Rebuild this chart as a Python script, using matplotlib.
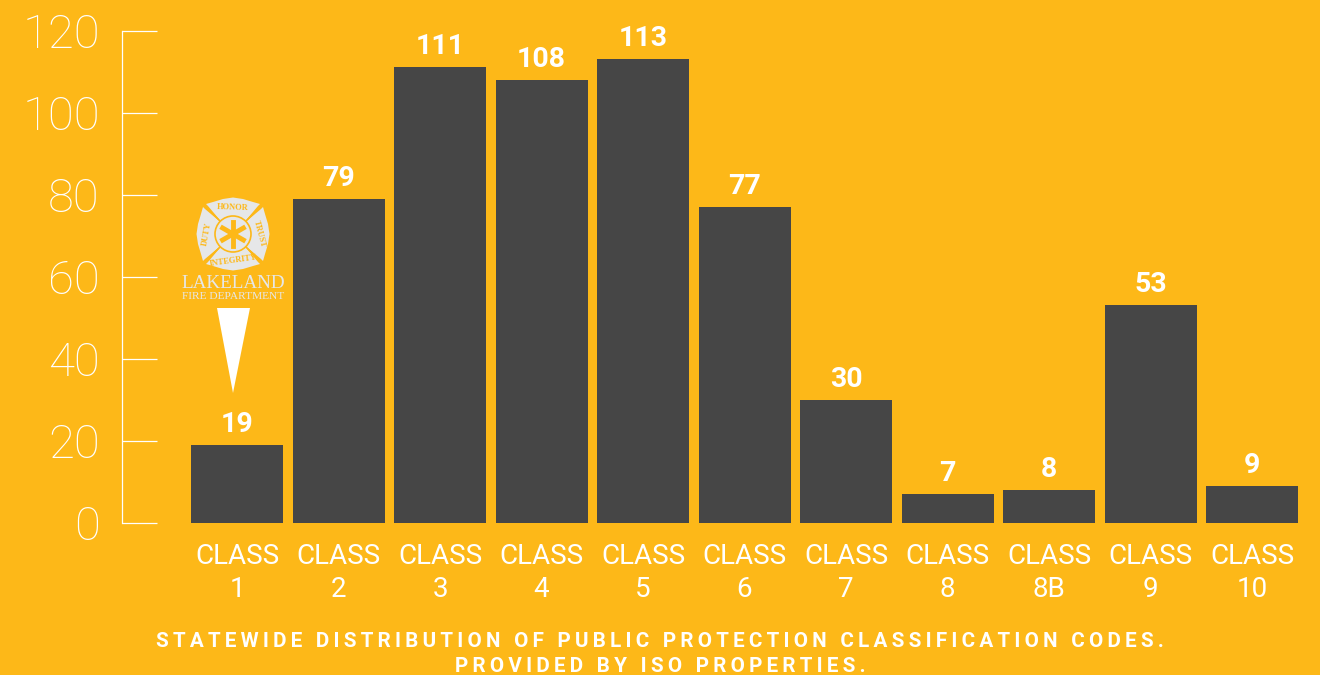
import matplotlib
matplotlib.use('Agg')
import matplotlib.pyplot as plt
import matplotlib.patches as mpatches
import numpy as np

#values
classes = ['1', '2', '3', '4', '5', '6', '7', '8', '8B', '9', '10']
counts = [19, 79, 111, 108, 113, 77, 30, 7, 8, 53, 9]
yticks = [0, 20, 40, 60, 80, 100, 120]
caption = ['STATEWIDE DISTRIBUTION OF PUBLIC PROTECTION CLASSIFICATION CODES.',
           'PROVIDED BY ISO PROPERTIES.']
logo_words = ['HONOR', 'TRUST', 'INTEGRITY', 'DUTY']

orange = '#FDB818'
dark = '#464646'
logo_grey = '#E6E7E8'
W, H = 1320, 675


def fx(x):
    return x / W


def fy(y):
    return 1 - y / H


plt.rcParams['font.family'] = ['Roboto', 'DejaVu Sans']

fig = plt.figure(figsize=(13.2, 6.75), dpi=100, facecolor=orange)
#axes box is set so 0 falls on pixel 522.5 and 120 on 30.5
ax = fig.add_axes([fx(122), fy(522.5), fx(1198), (522.5 - 30.5) / H])
ax.set_facecolor('none')

pos = np.arange(len(classes))
bars = ax.bar(pos, counts, width=92 / 101.5, color=dark)
ax.bar_label(bars, padding=5, color='white', fontsize=20.5, fontweight='bold')

ax.set_xlim((122 - 237) / 101.5, (1320 - 237) / 101.5)
ax.set_ylim(0, 120)
ax.set_yticks(yticks)
ax.set_xticks(pos)
ax.set_xticklabels(['CLASS\n' + c for c in classes], linespacing=1.28)

for s in ['top', 'right', 'bottom']:
    ax.spines[s].set_visible(False)
ax.spines['left'].set_color('white')
ax.spines['left'].set_linewidth(0.9)
ax.tick_params(axis='y', direction='in', length=25, width=0.9, color='white',
               labelcolor='white', labelsize=34, pad=16)
ax.tick_params(axis='x', length=0, labelcolor='white', labelsize=20, pad=15)
for t in ax.get_yticklabels():
    t.set_fontweight('light')

#caption, letter spaced with hair spaces
for txt, y in zip(caption, [641.5, 666.5]):
    spaced = '\u200a\u200a'.join(txt)
    fig.text(0.5, fy(y), spaced, color='white', fontsize=14.9, fontweight='bold',
             ha='center', va='center')

#pointer under the logo
fig.add_artist(mpatches.Polygon([[fx(217), fy(308)], [fx(250), fy(308)], [fx(233), fy(393)]],
                                closed=True, transform=fig.transFigure, color='white', lw=0))

#logo badge, in its own small axes with pixel units
logo = fig.add_axes([fx(190), fy(277), fx(86), 86 / H])
logo.set_xlim(-43, 43)
logo.set_ylim(-43, 43)
logo.axis('off')
petal_x = np.array([-9, -25, -27, -20, -10, 0, 10, 20, 27, 25, 9, 0])
petal_y = np.array([9, 28, 30, 32, 35, 36.5, 35, 32, 30, 28, 9, 0])
for k in range(4):
    a = np.deg2rad(90 * k)
    rx = petal_x * np.cos(a) - petal_y * np.sin(a)
    ry = petal_x * np.sin(a) + petal_y * np.cos(a)
    logo.fill(rx, ry, color=logo_grey, lw=0)
logo.add_patch(plt.Circle((0, 0), 20, color=logo_grey, lw=0))
for d in [45, 135, 225, 315]:
    a = np.deg2rad(d)
    logo.plot([19 * np.cos(a), 40 * np.cos(a)], [19 * np.sin(a), 40 * np.sin(a)], color=orange, lw=1.2)
logo.add_patch(plt.Circle((0, 0), 18, fill=False, ec=orange, lw=1.2))
for d in [90, 30, 150]:
    a = np.deg2rad(d)
    logo.plot([-12 * np.cos(a), 12 * np.cos(a)], [-12 * np.sin(a), 12 * np.sin(a)], color=orange, lw=3.5)
word_pos = [(0, 26.5, -2), (26.5, 0, -75), (0, -26.5, 8), (-26.5, 0, 80)]
for w, (lx, ly, rot) in zip(logo_words, word_pos):
    logo.text(lx, ly, w, family='Liberation Serif', fontweight='bold', fontsize=6,
              color=orange, ha='center', va='center', rotation=rot)

fig.text(fx(233), fy(284), 'LAKELAND', family='Liberation Serif', color=logo_grey,
         fontsize=13.8, ha='center', va='center')
fig.text(fx(233), fy(297), 'FIRE DEPARTMENT', family='Liberation Serif', color=logo_grey,
         fontsize=8.2, ha='center', va='center')

fig.savefig('out.png', dpi=100, facecolor=orange)
